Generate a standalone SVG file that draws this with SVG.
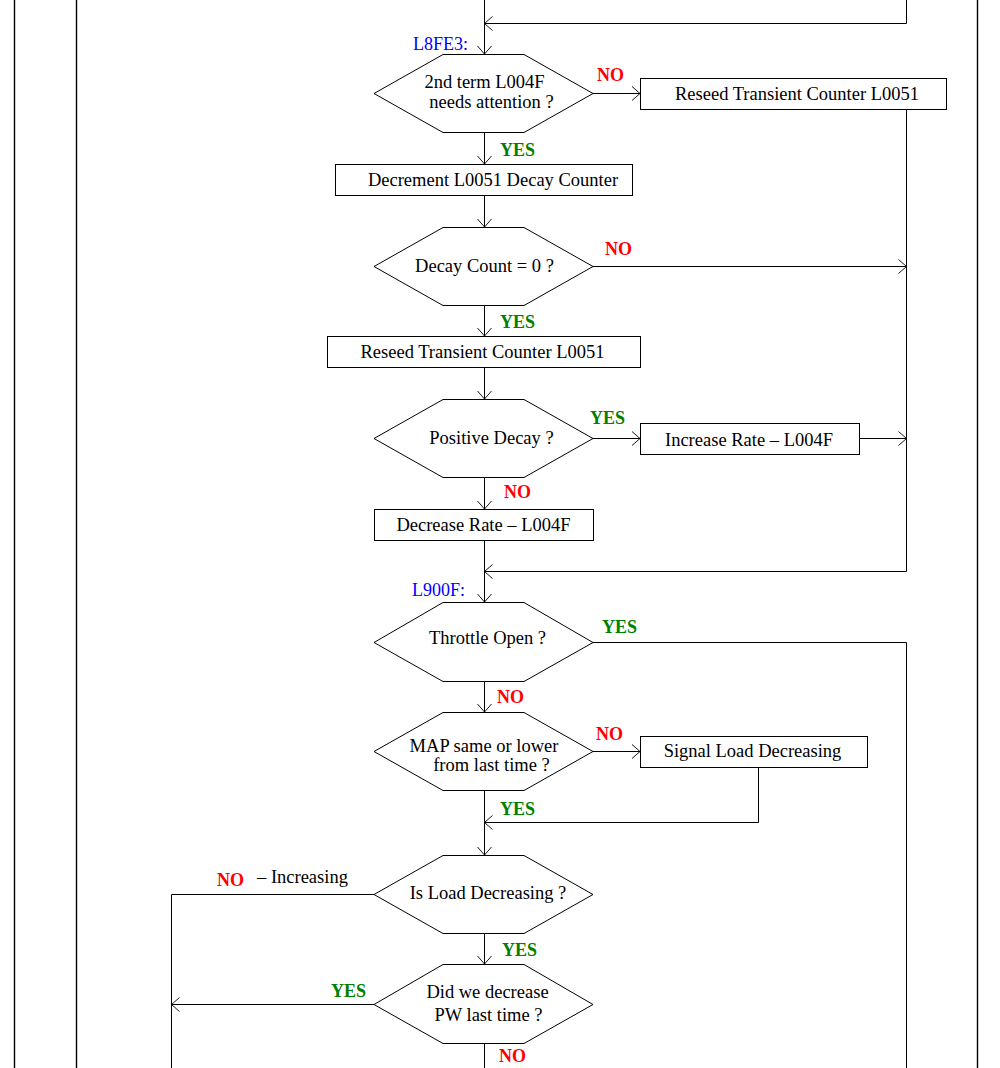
<svg xmlns="http://www.w3.org/2000/svg" width="1000" height="1068" viewBox="0 0 1000 1068">
<defs>
<marker id="arr" markerUnits="userSpaceOnUse" markerWidth="20" markerHeight="20" viewBox="-10 -10 20 20" refX="0" refY="0" orient="auto">
<path d="M-8,-7 L0,0 L-8,7" fill="none" stroke="#000" stroke-width="0.9"/>
</marker>
</defs>
<style>
.n{fill:#fff;stroke:#000;stroke-width:1}
.t{font-family:"Liberation Serif","Times New Roman",serif;font-size:18.5px;fill:#000;text-anchor:middle}
.c{fill:none;stroke:#000;stroke-width:1}
.b{fill:none;stroke:#000;stroke-width:1.4}
.y{font-family:"Liberation Serif","Times New Roman",serif;font-size:18px;font-weight:bold;fill:#008000}
.r{font-family:"Liberation Serif","Times New Roman",serif;font-size:18px;font-weight:bold;fill:#ff0000}
.l{font-family:"Liberation Serif","Times New Roman",serif;font-size:18px;fill:#0000ff}
.k{font-family:"Liberation Serif","Times New Roman",serif;font-size:18.5px;fill:#000}
</style>
<rect width="1000" height="1068" fill="#fff"/>
<g id="border">
<path class="b" d="M14.5,0 V1068 M76.5,0 V1068 M977.5,0 V1068"/>
</g>
<g id="connectors">
<path class="c" d="M484.5,0 V54" marker-end="url(#arr)"/>
<path class="c" d="M906.5,0 V23.5 H484.5" marker-end="url(#arr)"/>
<path class="c" d="M593,93.5 H640" marker-end="url(#arr)"/>
<path class="c" d="M906.5,109 V571.5 H484.5" marker-end="url(#arr)"/>
<path class="c" d="M484.5,133 V164" marker-end="url(#arr)"/>
<path class="c" d="M484.5,195 V227" marker-end="url(#arr)"/>
<path class="c" d="M593,266.5 H906.5" marker-end="url(#arr)"/>
<path class="c" d="M484.5,305 V336" marker-end="url(#arr)"/>
<path class="c" d="M484.5,368 V399" marker-end="url(#arr)"/>
<path class="c" d="M593,438.5 H640" marker-end="url(#arr)"/>
<path class="c" d="M859,438.5 H906.5" marker-end="url(#arr)"/>
<path class="c" d="M484.5,477 V509" marker-end="url(#arr)"/>
<path class="c" d="M484.5,540 V602" marker-end="url(#arr)"/>
<path class="c" d="M593,642.5 H906.5 V1068"/>
<path class="c" d="M484.5,681 V712" marker-end="url(#arr)"/>
<path class="c" d="M593,751.5 H640" marker-end="url(#arr)"/>
<path class="c" d="M758.5,767 V822.5 H484.5" marker-end="url(#arr)"/>
<path class="c" d="M484.5,790 V855" marker-end="url(#arr)"/>
<path class="c" d="M374,894.5 H171.5 V1068"/>
<path class="c" d="M484.5,933 V964" marker-end="url(#arr)"/>
<path class="c" d="M374,1004.5 H171.5" marker-end="url(#arr)"/>
<path class="c" d="M484.5,1043 V1068"/>
</g>
<g id="labels">
<text class="l" x="413" y="50">L8FE3:</text>
<text class="r" x="597" y="81">NO</text>
<text class="y" x="500" y="156">YES</text>
<text class="r" x="605" y="255">NO</text>
<text class="y" x="500" y="328">YES</text>
<text class="y" x="590" y="424">YES</text>
<text class="r" x="504" y="498">NO</text>
<text class="l" x="412" y="596">L900F:</text>
<text class="y" x="602" y="633">YES</text>
<text class="r" x="497" y="703">NO</text>
<text class="r" x="596" y="740">NO</text>
<text class="y" x="500" y="815">YES</text>
<text class="r" x="217" y="886">NO</text>
<text class="k" x="257" y="883">– Increasing</text>
<text class="y" x="502" y="956">YES</text>
<text class="y" x="331" y="997">YES</text>
<text class="r" x="499" y="1062">NO</text>
</g>
<g id="d1">
<path class="n" d="M374,93.5 L443,54.5 L524,54.5 L593,93.5 L524,132.5 L443,132.5 Z"/>
<text class="t" x="484.5" y="88">2nd term L004F</text>
<text class="t" x="491.5" y="108">needs attention ?</text>
</g>
<g id="box-reseed1">
<rect class="n" x="640.5" y="78.5" width="306" height="31"/>
<text class="t" x="797" y="100">Reseed Transient Counter L0051</text>
</g>
<g id="box-decrement">
<rect class="n" x="335.5" y="164.5" width="297" height="31"/>
<text class="t" x="493" y="186">Decrement L0051 Decay Counter</text>
</g>
<g id="d2">
<path class="n" d="M374,266.5 L443,227.5 L524,227.5 L593,266.5 L524,305.5 L443,305.5 Z"/>
<text class="t" x="484.5" y="272">Decay Count = 0 ?</text>
</g>
<g id="box-reseed2">
<rect class="n" x="327.5" y="336.5" width="313" height="31"/>
<text class="t" x="482.5" y="358">Reseed Transient Counter L0051</text>
</g>
<g id="d3">
<path class="n" d="M374,438.5 L443,399.5 L524,399.5 L593,438.5 L524,477.5 L443,477.5 Z"/>
<text class="t" x="491.5" y="444">Positive Decay ?</text>
</g>
<g id="box-increase">
<rect class="n" x="640.5" y="423.5" width="219" height="31"/>
<text class="t" x="749" y="446">Increase Rate – L004F</text>
</g>
<g id="box-decrease">
<rect class="n" x="374.5" y="509.5" width="219" height="31"/>
<text class="t" x="483.5" y="531">Decrease Rate – L004F</text>
</g>
<g id="d4">
<path class="n" d="M374,642.5 L443,602.5 L524,602.5 L593,642.5 L524,681.5 L443,681.5 Z"/>
<text class="t" x="487.5" y="644">Throttle Open ?</text>
</g>
<g id="d5">
<path class="n" d="M374,751.5 L443,712.5 L524,712.5 L593,751.5 L524,790.5 L443,790.5 Z"/>
<text class="t" x="484" y="752">MAP same or lower</text>
<text class="t" x="491.5" y="771">from last time ?</text>
</g>
<g id="box-signal">
<rect class="n" x="640.5" y="736.5" width="227" height="31"/>
<text class="t" x="752.5" y="757">Signal Load Decreasing</text>
</g>
<g id="d6">
<path class="n" d="M374,894.5 L443,855.5 L524,855.5 L593,894.5 L524,933.5 L443,933.5 Z"/>
<text class="t" x="488" y="899">Is Load Decreasing ?</text>
</g>
<g id="d7">
<path class="n" d="M374,1004.5 L443,964.5 L524,964.5 L593,1004.5 L524,1043.5 L443,1043.5 Z"/>
<text class="t" x="487.5" y="998">Did we decrease</text>
<text class="t" x="488.5" y="1021">PW last time ?</text>
</g>
</svg>
